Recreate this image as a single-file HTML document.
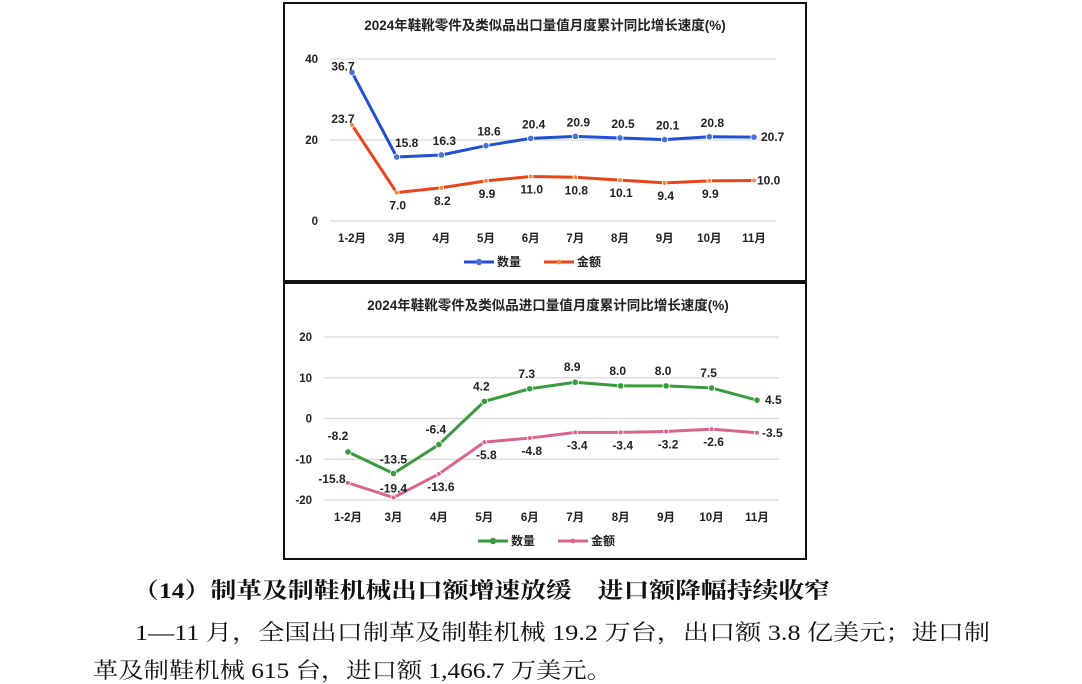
<!DOCTYPE html>
<html><head><meta charset="utf-8">
<style>
html,body{margin:0;padding:0;background:#fff;width:1082px;height:684px;overflow:hidden;}
svg{position:absolute;left:0;top:0;}
.t{font-family:"Liberation Sans","Noto Sans CJK SC",sans-serif;font-weight:bold;fill:#222;}
.s{font-family:"Liberation Serif","Noto Serif CJK SC",serif;fill:#111;}
</style></head>
<body>
<svg id="main" width="1082" height="684">
  <rect x="284" y="3" width="522" height="278" fill="#fff" stroke="#111" stroke-width="2"/>
  <rect x="284" y="283" width="522" height="276" fill="#fff" stroke="#111" stroke-width="2"/>
  <text class="s" x="133" y="598" font-size="22" font-weight="bold" textLength="697" lengthAdjust="spacingAndGlyphs">（14）制革及制鞋机械出口额增速放缓　进口额降幅持续收窄</text>
  <text class="s" x="135" y="640" font-size="22" textLength="855" lengthAdjust="spacingAndGlyphs">1—11 月，全国出口制革及制鞋机械 19.2 万台，出口额 3.8 亿美元；进口制</text>
  <text class="s" x="93" y="678" font-size="22" textLength="519" lengthAdjust="spacingAndGlyphs">革及制鞋机械 615 台，进口额 1,466.7 万美元。</text>
</svg>
<script>
const categories = ["1-2月","3月","4月","5月","6月","7月","8月","9月","10月","11月"];
const exportQty = [36.7,15.8,16.3,18.6,20.4,20.9,20.5,20.1,20.8,20.7];
const exportVal = [23.7,7.0,8.2,9.9,11.0,10.8,10.1,9.4,9.9,10.0];
const exportTicks = [0,20,40];
const importQty = [-8.2,-13.5,-6.4,4.2,7.3,8.9,8.0,8.0,7.5,4.5];
const importVal = [-15.8,-19.4,-13.6,-5.8,-4.8,-3.4,-3.4,-3.2,-2.6,-3.5];
const importTicks = [-20,-10,0,10,20];

const NS="http://www.w3.org/2000/svg";
const svg=document.getElementById('main');
function mk(tag,attrs,parent){const e=document.createElementNS(NS,tag);for(const k in attrs)e.setAttribute(k,attrs[k]);(parent||svg).appendChild(e);return e;}

function drawChart(cfg){
  const g=mk('g',{});
  
  
  const y=v=>cfg.y0+(v-cfg.vmin)/(cfg.vmax-cfg.vmin)*(cfg.y1-cfg.y0);
  const x=i=>cfg.xa+i*(cfg.xb-cfg.xa)/(categories.length-1);
  const tt=mk('text',{x:cfg.titleX,y:cfg.titleY,'font-size':13.5,'text-anchor':'middle',class:'t'},g);
  tt.textContent=cfg.title;
  
  
  cfg.ticks.forEach(t=>{
    const l=mk('line',{x1:cfg.gx0,x2:cfg.gx1,y1:y(t),y2:y(t),stroke:'#d9d9d9','stroke-width':1.2},g);
    
    
    const tx=mk('text',{x:cfg.tickX,y:y(t)+4,'font-size':11.5,'text-anchor':'end',class:'t'},g);
    tx.textContent=t;
    
    
  });
  categories.forEach((c,i)=>{
    const tx=mk('text',{x:x(i),y:cfg.catY,'font-size':11.5,'text-anchor':'middle',class:'t'},g);
    tx.textContent=c;
    
    
  });
  cfg.series.forEach(s=>{
    const p=mk('polyline',{points:s.data.map((v,i)=>x(i)+','+y(v)).join(' '),fill:'none',stroke:s.color,'stroke-width':3,'stroke-linejoin':'round'},g);
    
    
    s.data.forEach((v,i)=>{
      const m=mk('circle',{cx:x(i),cy:y(v),r:s.r,fill:s.mcolor,stroke:'#fff','stroke-width':0.8},g);
      
      
      const off=s.labelOff(i);
      const lb=mk('text',{x:x(i)+off[0],y:y(v)+off[1],'font-size':12,'text-anchor':off[2]||'middle',class:'t'},g);
      lb.textContent=v.toFixed(1);
      
      
    });
  });
  cfg.series.forEach((s,k)=>{
    const lx=cfg.legX+k*80;
    const l=mk('line',{x1:lx,x2:lx+30,y1:cfg.legY,y2:cfg.legY,stroke:s.color,'stroke-width':3},g);
    
    
    mk('circle',{cx:lx+15,cy:cfg.legY,r:s.r,fill:s.mcolor},g);
    const tx=mk('text',{x:lx+33,y:cfg.legY+4,'font-size':12,class:'t'},g);
    tx.textContent=s.label;
    
    
  });
}

drawChart({name:'export-growth-chart',title:'2024年鞋靴零件及类似品出口量值月度累计同比增长速度(%)',titleX:545,titleY:30,
  vmin:0,vmax:40,y0:221,y1:59,xa:352,xb:754,gx0:330,gx1:776,tickX:318,catY:242,ticks:exportTicks,legX:464,legY:262,
  series:[
   {name:'quantity',label:'数量',data:exportQty,color:'#2150d4',mcolor:'#4a72d6',r:3.2,
    labelOff:i=>i===0?[-9,-2]:i===9?[7,4,'start']:i===1?[10,-10]:[3,-10]},
   {name:'amount',label:'金额',data:exportVal,color:'#e8461a',mcolor:'#f08a3c',r:2.4,
    labelOff:i=>i===0?[-9,-2]:i===9?[3,4,'start']:[1,17]}
  ]});

drawChart({name:'import-growth-chart',title:'2024年鞋靴零件及类似品进口量值月度累计同比增长速度(%)',titleX:548,titleY:310,
  vmin:-20,vmax:20,y0:500,y1:337,xa:348,xb:757,gx0:324,gx1:779,tickX:312,catY:521,ticks:importTicks,legX:478,legY:541,
  series:[
   {name:'quantity',label:'数量',data:importQty,color:'#3a9a3e',mcolor:'#3a9a3e',r:3.2,
    labelOff:i=>i===0?[-10,-12]:i===9?[8,4,'start']:i===1?[0,-10]:[-3,-11]},
   {name:'amount',label:'金额',data:importVal,color:'#d9668a',mcolor:'#d9668a',r:2.4,
    labelOff:i=>i===0?[-16,0]:i===9?[5,4,'start']:i===1?[0,-5]:[2,17]}
  ]});
</script>
</body></html>
